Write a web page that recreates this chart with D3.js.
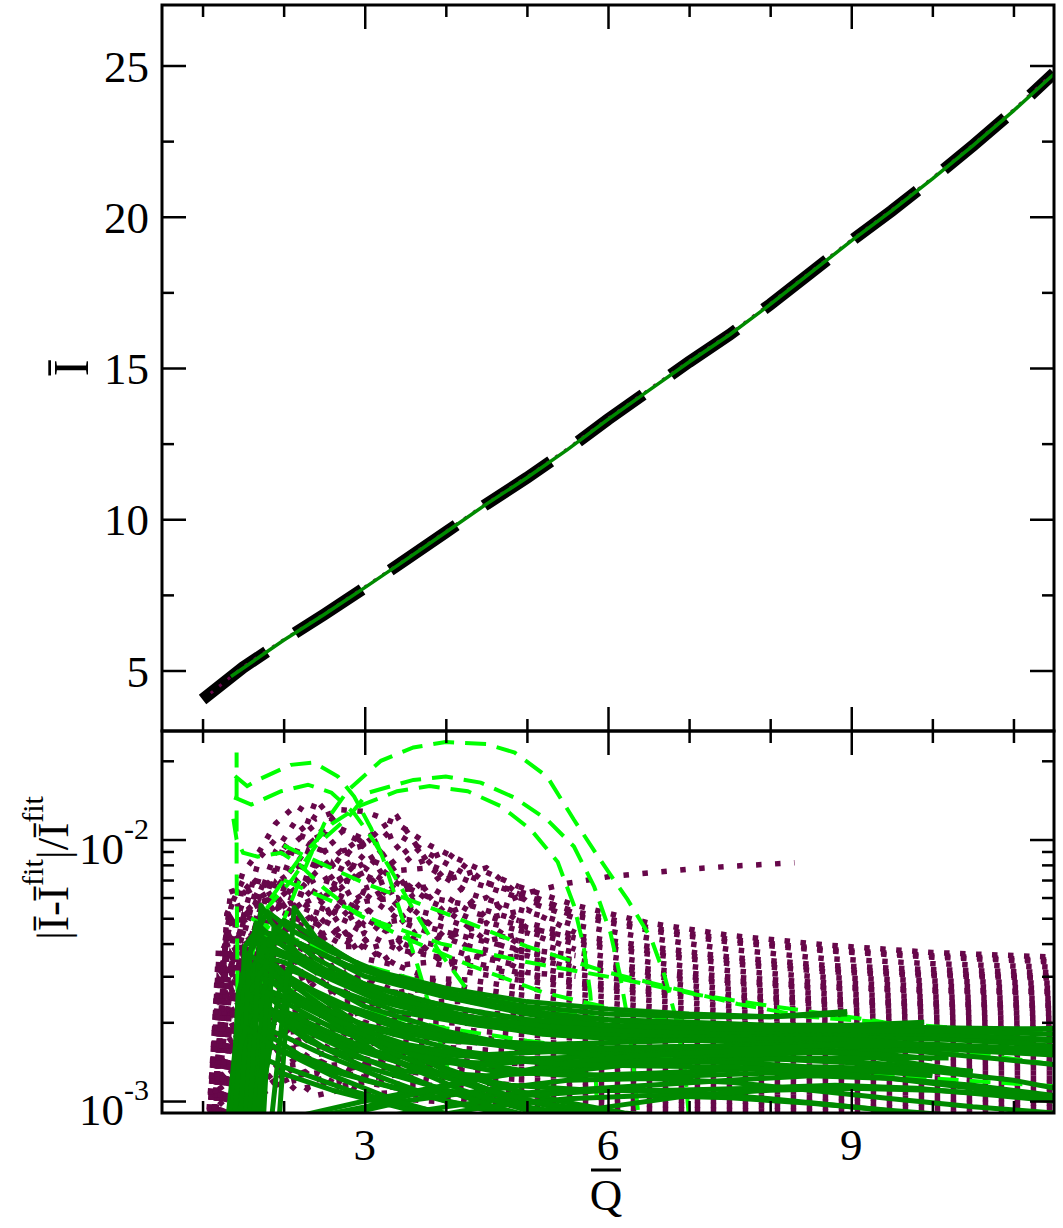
<!DOCTYPE html>
<html><head><meta charset="utf-8">
<script src="https://cdn.jsdelivr.net/npm/d3@7"></script>
<style>body{margin:0;background:#fff} svg text{font-family:"Liberation Serif","DejaVu Serif Condensed","DejaVu Serif",serif;font-stretch:condensed;fill:#000}</style>
</head><body><svg id="c" width="1063" height="1228"></svg>
<script>
// ---------------- DATA ----------------
// Top panel: I-bar vs Q-bar
const topQ = [1.0,1.5,2.0,2.5,3.0,3.5,4.0,4.5,5.0,5.5,6.0,6.5,7.0,7.5,8.0,8.5,9.0,9.5,10.0,10.5,11.0,11.5];
const topI = [4.04,5.1,6.0,6.85,7.74,8.65,9.57,10.5,11.37,12.3,13.3,14.25,15.2,16.1,17.1,18.15,19.2,20.2,21.25,22.35,23.5,24.75];
const topDotQ = [1.1,1.5,2.0,2.5,3.0,3.5,4.0,4.5,5.0,5.5,6.0,6.5,7.0,7.5,8.0,8.5,9.0,9.5,10.0,10.5,11.0,11.45];
const topDotI = [4.25,5.12,6.02,6.87,7.76,8.67,9.6,10.52,11.4,12.33,13.33,14.28,15.23,16.13,17.13,18.18,19.23,20.23,21.28,22.38,23.53,24.65];
const topSolidQ = [1.35,2.0,2.5,3.0,3.5,4.0,4.5,5.0,5.5,6.0,6.5,7.0,7.5,8.0,8.5,9.0,9.5,10.0,10.5,11.0,11.5];
const topSolidI = [4.8,6.0,6.85,7.74,8.65,9.57,10.5,11.37,12.3,13.3,14.25,15.2,16.1,17.1,18.15,19.2,20.2,21.25,22.35,23.5,24.72];

// Bottom panel: relative deviation, values in units of 1e-3
const UNIT = 1e-3;
const dottedQ = [1.05,1.2,1.35,1.5,1.7,1.9,2.15,2.4,2.7,3.0,3.4,3.8,4.3,4.9,5.6,6.5,7.5,8.7,10.0,11.5];
const dottedSeries = [
  [0.5,3.0,5.5,7.5,9.0,11.5,13.5,12.0,13.0,12.8,11.5,9.5,8.0,6.6,5.6,4.8,4.3,3.95,3.7,3.55],
  [0.6,2.2,6.5,5.0,8.5,10.0,8.8,14.2,11.0,10.0,12.2,8.0,6.9,6.0,5.1,4.5,4.05,3.75,3.55,3.4],
  [0.5,4.0,3.8,6.8,6.0,9.0,11.8,9.5,8.2,10.5,7.6,7.8,6.2,5.4,4.7,4.2,3.8,3.5,3.35,3.25],
  [0.7,2.8,5.0,4.2,7.2,6.5,8.0,10.5,7.0,8.8,6.8,6.0,5.6,4.9,4.3,3.9,3.55,3.3,3.18,3.1],
  [0.5,1.8,4.2,5.8,5.0,7.8,6.2,7.5,9.0,6.5,7.2,5.8,5.0,4.5,4.0,3.65,3.35,3.12,3.02,2.95],
  [0.6,3.5,3.0,4.8,6.5,5.2,7.0,5.8,6.8,7.5,5.6,5.2,4.6,4.1,3.7,3.4,3.15,2.97,2.88,2.82],
  [0.5,2.5,4.8,3.6,5.0,6.2,4.8,6.5,5.4,5.8,6.0,4.6,4.2,3.8,3.45,3.2,2.98,2.83,2.75,2.7],
  [0.5,1.5,3.0,4.4,3.8,4.5,5.8,4.6,5.8,4.7,4.9,4.4,3.9,3.55,3.25,3.0,2.82,2.7,2.62,2.58],
  [0.6,2.9,2.4,3.6,4.6,3.9,4.4,5.2,4.2,5.0,4.2,4.0,3.6,3.3,3.05,2.85,2.68,2.57,2.5,2.46],
  [0.5,1.9,3.6,2.9,3.5,4.8,3.7,4.0,4.6,3.8,4.1,3.6,3.4,3.1,2.88,2.7,2.55,2.45,2.39,2.36],
  [0.6,1.3,2.6,3.8,3.0,3.6,4.2,3.3,3.9,3.9,3.3,3.4,3.1,2.9,2.72,2.56,2.43,2.34,2.29,2.26],
  [0.5,2.4,2.0,3.0,3.9,3.1,3.4,3.8,3.0,3.5,3.3,2.95,2.9,2.72,2.56,2.43,2.31,2.23,2.19,2.16],
  [0.5,1.6,3.1,2.5,2.8,3.5,2.9,3.1,3.4,2.8,3.0,2.9,2.7,2.55,2.42,2.3,2.2,2.13,2.09,2.07],
  [0.6,1.1,2.2,3.3,2.5,2.9,3.3,2.7,2.9,3.0,2.6,2.7,2.5,2.4,2.28,2.18,2.09,2.03,2.0,1.98],
  [0.5,2.0,1.7,2.6,3.0,2.4,2.7,3.0,2.5,2.7,2.6,2.4,2.4,2.25,2.15,2.06,1.99,1.94,1.91,1.9],
  [0.5,1.4,2.7,2.1,2.4,2.8,2.3,2.5,2.7,2.3,2.5,2.3,2.2,2.12,2.03,1.96,1.9,1.86,1.83,1.82],
  [0.6,1.0,1.9,2.8,2.1,2.5,2.6,2.2,2.4,2.4,2.1,2.2,2.1,2.0,1.93,1.86,1.81,1.77,1.75,1.74],
  [0.5,1.7,1.5,2.2,2.6,2.0,2.3,2.4,2.1,2.2,2.15,2.0,1.98,1.9,1.83,1.77,1.72,1.69,1.67,1.66],
  [0.5,1.2,2.3,1.8,2.1,2.4,2.0,2.1,2.25,1.95,2.05,1.92,1.86,1.8,1.74,1.69,1.65,1.62,1.6,1.59],
  [0.6,0.95,1.7,2.4,1.8,2.1,2.2,1.85,2.0,2.0,1.8,1.85,1.76,1.7,1.65,1.61,1.57,1.55,1.53,1.52],
  [0.5,1.5,1.3,1.9,2.2,1.75,1.95,2.0,1.8,1.85,1.8,1.7,1.68,1.62,1.57,1.53,1.5,1.48,1.47,1.46],
  [0.5,1.05,2.0,1.6,1.8,2.0,1.7,1.8,1.85,1.65,1.7,1.62,1.58,1.54,1.5,1.46,1.43,1.42,1.41,1.4],
  [0.6,0.9,1.5,2.0,1.6,1.8,1.85,1.6,1.7,1.7,1.55,1.56,1.5,1.46,1.43,1.4,1.37,1.35,1.34,1.34],
  [0.5,1.3,1.15,1.6,1.85,1.5,1.65,1.7,1.5,1.58,1.52,1.45,1.42,1.39,1.36,1.33,1.31,1.29,1.28,1.28],
  [0.5,0.95,1.7,1.4,1.55,1.7,1.45,1.5,1.58,1.4,1.45,1.38,1.35,1.32,1.3,1.27,1.25,1.23,1.22,1.22],
  [0.6,0.85,1.3,1.75,1.4,1.55,1.6,1.4,1.48,1.45,1.35,1.34,1.3,1.27,1.24,1.21,1.19,1.18,1.17,1.17],
  [0.5,1.15,1.0,1.4,1.6,1.3,1.45,1.45,1.3,1.38,1.32,1.26,1.24,1.21,1.18,1.16,1.14,1.13,1.12,1.12],
  [0.5,0.85,1.45,1.2,1.35,1.5,1.25,1.35,1.38,1.22,1.26,1.2,1.18,1.15,1.13,1.11,1.09,1.08,1.07,1.07],
  [0.6,0.8,1.1,1.5,1.2,1.35,1.38,1.2,1.28,1.25,1.16,1.15,1.12,1.1,1.08,1.06,1.04,1.03,1.02,1.02],
  [0.5,1.0,0.9,1.2,1.4,1.15,1.25,1.28,1.14,1.18,1.12,1.08,1.07,1.05,1.03,1.01,1.0,0.99,0.98,0.98],
  [0.5,0.8,1.25,1.05,1.15,1.3,1.1,1.15,1.18,1.06,1.08,1.04,1.02,1.0,0.99,0.97,0.96,0.95,0.94,0.94],
  [0.6,0.75,0.95,1.3,1.05,1.15,1.2,1.05,1.1,1.08,1.02,1.0,0.98,0.96,0.95,0.93,0.92,0.91,0.9,0.9],
  [0.5,2.0,4.6,6.2,7.2,6.0,9.8,11.5,9.0,9.5,10.5,8.8,7.2,6.2,5.3,4.6,4.15,3.8,3.6,3.45],
  [0.6,3.2,2.8,5.4,4.6,6.8,5.5,8.5,6.5,7.8,6.4,6.6,5.3,4.7,4.15,3.75,3.45,3.2,3.07,3.0],
  [0.5,1.7,3.8,3.2,5.6,4.3,5.5,6.0,5.0,6.2,5.0,4.8,4.3,3.75,3.4,3.1,2.88,2.73,2.65,2.62],
  [0.5,2.6,2.2,4.2,3.4,4.9,4.0,4.5,4.0,4.4,3.8,3.6,3.3,3.05,2.82,2.63,2.5,2.41,2.35,2.32]
];
// short, noisy dotted sets that stop near Q = 5.6
const dottedShortQ = [1.1,1.3,1.5,1.75,2.0,2.3,2.6,2.9,3.2,3.6,4.0,4.5,5.0,5.6];
const dottedShortSeries = [
  [0.6,4.5,3.2,6.0,4.0,7.5,5.0,8.5,6.0,7.0,5.2,6.0,4.6,4.2],
  [0.5,2.8,5.0,3.5,6.5,4.2,8.0,5.5,9.0,6.0,7.5,5.0,5.4,4.4],
  [0.6,3.6,2.4,4.8,3.2,5.5,3.8,6.2,4.5,5.4,4.2,4.8,3.8,3.6],
  [0.5,5.2,7.0,5.0,9.5,7.0,12.0,9.0,11.0,8.0,9.0,6.8,6.2,5.2],
  [0.6,2.2,3.8,2.8,4.6,3.4,5.2,3.8,4.8,3.6,4.4,3.5,3.6,3.2],
  [0.5,3.0,4.4,6.8,5.0,9.0,6.5,10.5,7.5,9.5,7.0,7.8,5.8,5.0],
  [0.6,4.0,2.8,4.2,5.6,4.0,6.8,4.6,6.0,4.4,5.4,4.1,4.4,3.8],
  [0.5,1.8,3.0,4.0,3.0,4.2,3.2,4.6,3.4,4.2,3.3,3.7,3.1,3.0]
];
const dottedRisingQ = [4.6,5.05,5.5,6.0,6.5,7.0,7.5,8.0,8.3];
const dottedRisingV = [5.6,6.3,6.8,7.2,7.45,7.7,7.9,8.05,8.15];

const dashedSeries = [
  [[1.95,4.5],[2.2,7.0],[2.5,11.5],[2.8,15.5],[3.2,20],[3.6,22.5],[4.0,23.6],[4.5,23.2],[4.85,21.5],[5.25,17.4],[5.58,11.9],[5.9,8.4],[6.24,5.9],[6.53,4.2],[6.7,3.0],[6.85,2.0],[6.95,1.3],[7.0,0.85]],
  [[1.75,3.0],[1.8,5.5],[2.1,7.0],[2.39,9.4],[2.8,12.2],[3.04,15.1],[3.6,16.9],[4.0,17.4],[4.43,16.5],[4.84,14.5],[5.25,11.9],[5.58,9.4],[5.83,6.6],[6.03,4.4],[6.15,3.0],[6.25,2.0],[6.32,1.3],[6.38,0.85]],
  [[1.6,3.5],[1.76,5.5],[2.2,8.5],[2.6,11.5],[2.95,13.5],[3.4,15.3],[3.8,16.0],[4.27,15.3],[4.68,13.4],[5.05,10.9],[5.38,8.2],[5.58,5.6],[5.7,3.9],[5.78,2.6],[5.83,1.7],[5.87,0.85]],
  [[1.44,0.85],[1.43,3.0],[1.42,8.0],[1.42,14.0],[1.42,21.5]],
  [[1.40,17.5],[1.55,16.0],[1.68,16.9],[2.09,19.3],[2.37,19.7],[2.67,17.4],[2.87,14.6],[3.08,11.0],[3.23,8.4],[3.36,6.3],[3.5,4.6],[3.65,3.3],[3.8,2.3],[3.95,1.6],[4.1,1.1]],
  [[1.39,14.5],[1.6,13.6],[1.97,15.3],[2.3,16.2],[2.59,15.1],[2.87,12.6],[3.1,10.0],[3.35,7.4],[3.6,5.4],[3.9,3.8],[4.25,2.7]],
  [[1.38,12.0],[1.42,10.0],[1.5,8.9],[1.68,8.6],[1.97,8.9],[2.2,8.0],[2.5,6.5],[2.9,5.2],[3.5,4.2],[4.3,3.3],[5.2,2.6],[6.2,2.2],[7.2,1.95],[8.2,1.8],[9.2,1.7],[10.2,1.62],[11.5,1.55]],
  [[2.0,9.5],[2.5,8.0],[3.0,6.8],[3.94,5.3],[5.0,3.9],[6.0,3.1],[6.8,2.7],[7.6,2.35],[8.46,2.1],[9.4,2.0],[10.3,1.9],[11.5,1.85]],
  [[2.0,7.0],[2.6,5.8],[3.2,4.8],[3.94,4.0],[5.0,3.4],[6.23,2.9],[7.1,2.55],[8.04,2.3],[9.2,2.05],[10.26,1.8],[11.5,1.7]],
  [[1.5,3.0],[2.2,2.6],[3.0,2.2],[4.0,1.9],[5.0,1.7],[6.0,1.55],[7.0,1.45],[8.0,1.38],[9.0,1.3],[10.0,1.22],[11.5,1.14]],
  [[1.6,5.0],[2.0,4.3],[3.0,3.3],[4.0,2.7],[5.0,2.3],[6.0,2.05],[7.0,1.9],[8.0,1.8],[9.0,1.72],[10.0,1.6],[11.5,1.38]]
];

const solidSeries = [
  [[1.45,0.9],[1.6,4.0],[1.8,5.3],[2.1,4.5],[2.6,3.7],[3.2,3.1],[4,2.7],[5,2.4],[6,2.25],[7,2.15],[8,2.1],[8.95,2.15]],
  [[1.4,0.8],[1.55,3.6],[1.75,4.4],[2.0,4.3],[2.5,3.6],[3.0,3.0],[4.0,2.5],[5.0,2.2],[6.0,2.05],[7,2.0],[8,1.95],[9,1.95],[9.9,2.0]],
  [[1.5,0.8],[1.7,3.2],[1.9,4.2],[2.2,4.0],[2.8,3.3],[3.5,2.8],[4.5,2.35],[5.5,2.1],[6.5,1.98],[7.5,1.92],[8.5,1.9],[9.5,1.92],[10.5,1.9],[11.5,1.88]],
  [[1.55,0.9],[1.75,3.8],[2.0,4.9],[2.2,4.6],[2.6,3.8],[3.2,3.0],[4,2.5],[5,2.15],[6,1.95],[7,1.85],[8,1.8],[9,1.78],[10,1.75],[11,1.72],[11.5,1.7]],
  [[1.4,0.95],[1.6,3.0],[1.8,3.9],[2.1,3.6],[2.7,3.0],[3.5,2.5],[4.5,2.15],[5.5,1.95],[6.5,1.85],[7.5,1.8],[8.5,1.78],[9.5,1.8],[10.5,1.85],[11.5,1.9]],
  [[1.35,0.85],[1.5,2.8],[1.7,3.6],[2.0,3.4],[2.6,2.7],[3.4,2.2],[4.4,1.95],[5.4,1.8],[6.4,1.72],[7.4,1.7],[8.4,1.7],[9.4,1.68],[10.4,1.62],[11.5,1.55]],
  [[1.5,0.9],[1.65,3.3],[1.85,3.7],[2.3,3.3],[3.0,2.6],[4.0,2.1],[5.0,1.85],[6.0,1.75],[7.0,1.72],[8.0,1.74],[9.0,1.78],[9.95,1.8]],
  [[1.95,0.9],[2.13,5.5],[2.4,4.2],[3.0,3.2],[4,2.6],[5,2.3],[6,2.15],[7,2.1],[8,2.1],[8.95,2.2]],
  [[1.6,0.9],[1.72,5.6],[1.85,4.8],[2.2,3.6],[2.8,2.8],[3.6,2.3],[4.6,2.0],[5.6,1.85],[6.6,1.78],[7.6,1.72],[8.6,1.68],[9.6,1.62],[10.6,1.55],[11.5,1.5]],
  [[1.45,0.9],[1.6,2.6],[1.8,3.2],[2.2,2.8],[2.8,2.3],[3.5,1.95],[4.5,1.7],[5.5,1.6],[6.5,1.55],[7.5,1.5],[8.5,1.45],[9.5,1.38],[10.5,1.3]],
  [[1.5,0.9],[1.65,2.4],[1.85,2.9],[2.3,2.4],[3.0,1.95],[4.0,1.7],[5.0,1.62],[6.0,1.6],[7.0,1.62],[8.0,1.6],[9.0,1.55],[10.0,1.45]],
  [[1.4,0.9],[1.55,2.2],[1.75,2.6],[2.2,2.0],[2.9,1.6],[3.8,1.4],[4.8,1.4],[5.8,1.5],[6.8,1.6],[7.8,1.65],[8.8,1.62],[9.8,1.55],[10.8,1.45],[11.5,1.38]],
  [[1.55,0.9],[1.7,2.9],[1.9,3.1],[2.4,2.4],[3.0,1.8],[3.8,1.4],[4.6,1.15],[5.4,1.0],[6.2,0.9],[7,0.85]],
  [[1.45,0.9],[1.62,2.0],[1.8,2.2],[2.3,1.7],[3.0,1.35],[4.0,1.1],[5.0,0.95],[6.0,0.85]],
  [[1.5,0.9],[1.7,3.5],[1.9,3.3],[2.5,2.2],[3.2,1.6],[4.0,1.25],[5.0,1.0],[6.0,0.85]],
  [[1.35,0.9],[1.5,1.9],[1.7,2.3],[2.5,1.6],[3.5,1.3],[4.5,1.25],[5.5,1.3],[6.5,1.4],[7.5,1.5],[8.5,1.55],[9.5,1.5]],
  [[1.6,0.9],[1.8,2.5],[2.0,2.4],[2.6,1.9],[3.4,1.55],[4.4,1.5],[5.4,1.55],[6.4,1.6],[7.4,1.62],[8.4,1.58],[9.4,1.45],[10.4,1.3]],
  [[2.0,0.85],[3.0,1.0],[4.0,1.15],[5.0,1.3],[6.0,1.4],[7.0,1.45],[8.0,1.45],[9.0,1.4],[10.0,1.3],[11.0,1.2],[11.5,1.12]],
  [[1.8,1.8],[2.2,1.5],[3.0,1.2],[4.0,1.0],[5.0,0.88]],
  [[2.5,0.85],[3.5,1.0],[4.5,1.1],[5.5,1.2],[6.5,1.22],[7.5,1.18],[8.5,1.1],[9.5,1.02],[10.5,0.95],[11.5,0.9]],
  [[1.45,0.9],[1.6,1.7],[1.9,1.6],[2.6,1.3],[3.5,1.1],[4.5,1.05],[5.5,1.1],[6.5,1.15],[7.5,1.2],[8.5,1.25],[9.5,1.22],[10.5,1.15],[11.5,1.05]],
  [[3.0,0.85],[4,0.95],[5,1.05],[6,1.1],[7,1.08],[8,1.02],[9,0.95],[10,0.88]],
  [[1.5,0.9],[1.65,1.5],[2.0,1.35],[2.8,1.1],[3.6,0.95],[4.4,0.85]],
  [[1.55,0.9],[1.75,4.2],[1.95,4.0],[2.5,3.0],[3.2,2.4],[4.2,2.0],[5.2,1.8],[6.2,1.72],[7.2,1.7],[8.2,1.72],[9.2,1.75],[10.2,1.72],[11.2,1.65],[11.5,1.62]],
  [[1.65,0.9],[1.85,3.0],[2.1,2.9],[2.7,2.3],[3.4,1.9],[4.3,1.7],[5.3,1.65],[6.3,1.68],[7.3,1.72],[8.3,1.75],[9.3,1.7],[10.3,1.6]],
  [[1.4,0.9],[1.5,2.5],[1.65,2.8],[2.0,2.5],[3.0,1.75],[4.0,1.45],[5.0,1.3],[6.0,1.25],[7.0,1.25],[8.0,1.28],[9.0,1.3],[10.0,1.28]],
  [[1.7,0.9],[1.9,2.2],[2.3,2.1],[3.0,1.7],[4.0,1.5],[5.0,1.45],[6.0,1.48],[7.0,1.55],[8.0,1.6],[9.0,1.65],[10.0,1.65],[11.0,1.6],[11.5,1.58]],
  [[1.38,0.9],[1.48,3.0],[1.58,3.6],[1.9,3.2],[2.5,2.5],[3.2,2.0],[4.2,1.7],[5.2,1.55],[6.2,1.5],[7.2,1.5],[8.2,1.52],[9.2,1.55],[10.2,1.58]],
  [[1.42,0.9],[1.52,3.9],[1.62,4.3],[1.85,3.9],[2.4,3.1],[3.0,2.6],[4.0,2.15],[5.0,1.9],[6.0,1.8],[7.0,1.78],[8.0,1.8],[9.0,1.82],[10.0,1.8],[11.0,1.75],[11.5,1.72]],
  [[1.32,0.9],[1.45,2.2],[1.6,2.5],[2.0,2.1],[2.8,1.6],[3.8,1.3],[4.8,1.15],[5.8,1.1],[6.8,1.1],[7.8,1.12],[8.8,1.15],[9.8,1.12],[10.8,1.05],[11.5,1.0]],
  [[1.6,0.9],[1.8,3.4],[2.2,2.8],[3.0,1.9],[4.0,1.3],[5.0,0.95],[5.5,0.85]],
  [[1.7,0.9],[1.95,2.7],[2.4,2.2],[3.2,1.5],[4.2,1.1],[5.2,0.88]],
  [[1.36,0.85],[1.44,2.6],[1.52,3.1],[1.8,2.9],[2.4,2.3],[3.2,1.85],[4.2,1.55],[5.2,1.42],[6.2,1.4],[7.2,1.42],[8.2,1.45],[9.2,1.47],[10.2,1.46]],
  [[1.47,0.85],[1.57,3.4],[1.66,4.8],[1.9,4.1],[2.5,3.2],[3.3,2.5],[4.3,2.1],[5.3,1.92],[6.3,1.85],[7.3,1.83],[8.3,1.85],[9.3,1.87],[10.3,1.85],[11.5,1.8]],
  [[1.52,0.85],[1.62,2.0],[1.72,2.3],[2.2,1.9],[3.0,1.45],[3.8,1.15],[4.6,0.95],[5.2,0.85]],
  [[1.58,0.85],[1.68,3.0],[1.78,3.3],[2.1,2.6],[2.8,1.9],[3.6,1.5],[4.6,1.3],[5.6,1.25],[6.6,1.28],[7.6,1.32],[8.6,1.35],[9.6,1.33]],
  [[1.62,0.85],[1.76,1.9],[1.95,1.8],[2.5,1.5],[3.3,1.2],[4.0,1.0],[4.8,0.88]],
  [[1.75,0.85],[1.88,4.6],[2.0,4.4],[2.4,3.5],[3.0,2.8],[4.0,2.3],[5.0,2.05],[6.0,1.95],[7.0,1.9],[8.0,1.88],[9.0,1.86],[9.9,1.85]],
  [[1.85,0.85],[2.05,3.2],[2.4,2.9],[3.0,2.3],[4.0,1.85],[5.0,1.6],[6.0,1.48],[7.0,1.42],[8.0,1.38],[9.0,1.32],[10.0,1.25]],
  [[2.2,0.85],[3.0,0.95],[3.8,1.1],[4.6,1.25],[5.5,1.4],[6.5,1.5],[7.5,1.55],[8.5,1.55],[9.5,1.5]],
  [[1.9,1.3],[2.6,1.1],[3.4,0.95],[4.0,0.85]],
  [[3.6,0.85],[4.5,0.95],[5.5,1.02],[6.5,1.05],[7.5,1.03],[8.5,0.98],[9.5,0.92],[10.5,0.87]],
  [[2.0,2.2],[2.8,1.7],[3.6,1.35],[4.4,1.12],[5.2,0.98],[6.0,0.9],[7.0,0.85]],
  [[1.68,0.85],[1.8,2.6],[2.05,2.5],[2.7,2.0],[3.5,1.65],[4.5,1.45],[5.5,1.38],[6.5,1.36],[7.5,1.35],[8.5,1.3],[9.5,1.22],[10.5,1.12],[11.5,1.02]],
  [[5.0,0.85],[6.0,0.95],[7.0,1.05],[8.0,1.1],[9.0,1.12],[10.0,1.1],[11.0,1.05],[11.5,1.02]],
  [[1.4,0.9],[1.46,1.6],[1.54,1.9],[1.9,1.6],[2.6,1.25],[3.4,1.0],[4.2,0.85]]
];

// Axis ticks / labels
const xMajor = [3,6,9];
const xMinor = [1,2,4,5,7,8,10,11];
const yTopMajor = [5,10,15,20,25];
const yTopMinor = [7.5,12.5,17.5,22.5];
const yBotMajor = [1e-3,1e-2];
const yBotMajorExp = ["-3","-2"];
const yBotMinor = [2e-3,3e-3,4e-3,5e-3,6e-3,7e-3,8e-3,9e-3,2e-2];

// ---------------- LAYOUT ----------------
const L = 162, R = 1054, T1 = 5, B1 = 731, T2 = 731, B2 = 1113;
const svg = d3.select('#c');
const x = d3.scaleLinear().domain([0.5, 11.5]).range([L, R]);
const yTop = d3.scaleLinear().domain([3, 27]).range([B1, T1]);
const yBot = d3.scaleLog().domain([0.0009, 0.026]).range([B2, T2]);

const defs = svg.append('defs');
defs.append('clipPath').attr('id','clipTop').append('rect').attr('x',L).attr('y',T1).attr('width',R-L).attr('height',B1-T1);
defs.append('clipPath').attr('id','clipBot').append('rect').attr('x',L).attr('y',T2).attr('width',R-L).attr('height',B2-T2);

const MAROON = '#67074a', LGREEN = '#00ff00', DGREEN = '#008a00';

// ---- top panel series
const gTop = svg.append('g').attr('clip-path','url(#clipTop)');
const lineTop = d3.line().x(d => x(d[0])).y(d => yTop(d[1]));
gTop.append('path').datum(d3.zip(topQ, topI)).attr('d', lineTop)
  .attr('fill','none').attr('stroke','#000').attr('stroke-width',12).attr('stroke-dasharray','80 34');
gTop.append('path').datum(d3.zip(topDotQ, topDotI)).attr('d', lineTop)
  .attr('fill','none').attr('stroke',MAROON).attr('stroke-width',3).attr('stroke-dasharray','3 8');
gTop.append('path').datum(d3.zip(topSolidQ, topSolidI)).attr('d', lineTop)
  .attr('fill','none').attr('stroke',DGREEN).attr('stroke-width',3.5);

// ---- bottom panel series
const gBot = svg.append('g').attr('clip-path','url(#clipBot)');
const lineBot = d3.line().x(d => x(d[0])).y(d => yBot(Math.max(d[1]*UNIT, 0.0004)));
const dotted = (pts, gap) => gBot.append('path').datum(pts).attr('d', lineBot)
  .attr('fill','none').attr('stroke',MAROON).attr('stroke-width',5.5).attr('stroke-dasharray',`5.5 ${gap}`);
const SPLIT = 13; // dotted paths restart at Q=4.9 so the dots line up in columns to the right
dottedSeries.forEach(vals => {
  const pts = d3.zip(dottedQ, vals);
  dotted(pts.slice(0, SPLIT + 1), 10.5);
  dotted(pts.slice(SPLIT), 10.5);
});
dottedShortSeries.forEach(vals => dotted(d3.zip(dottedShortQ, vals), 11));
dotted(d3.zip(dottedRisingQ, dottedRisingV), 13.5);
dashedSeries.forEach(s => {
  gBot.append('path').datum(s).attr('d', lineBot)
    .attr('fill','none').attr('stroke',LGREEN).attr('stroke-width',4).attr('stroke-dasharray','21 11');
});
solidSeries.forEach(s => {
  gBot.append('path').datum(s).attr('d', lineBot)
    .attr('fill','none').attr('stroke',DGREEN).attr('stroke-width',5).attr('stroke-linejoin','round');
});

// ---- frames
[[T1,B1],[T2,B2]].forEach(([t,b]) => {
  svg.append('rect').attr('x',L).attr('y',t).attr('width',R-L).attr('height',b-t)
    .attr('fill','none').attr('stroke','#000').attr('stroke-width',3);
});

// ---- ticks (inward) via d3 axes
function ticks(axisGen, scale, vals, size, tx, ty) {
  svg.append('g').attr('transform',`translate(${tx},${ty})`)
    .call(axisGen(scale).tickValues(vals).tickSize(size).tickFormat(''))
    .call(g => { g.select('.domain').remove(); g.selectAll('line').attr('stroke','#000').attr('stroke-width',2.5); });
}
[[B1,T1,yTop,yTopMajor,yTopMinor],[B2,T2,yBot,yBotMajor,yBotMinor]].forEach(([b,t,ys,maj,min]) => {
  ticks(d3.axisBottom, x, xMajor, -24, 0, b);
  ticks(d3.axisBottom, x, xMinor, -12, 0, b);
  ticks(d3.axisTop, x, xMajor, -24, 0, t);
  ticks(d3.axisTop, x, xMinor, -12, 0, t);
  ticks(d3.axisLeft, ys, maj, -24, L, 0);
  ticks(d3.axisLeft, ys, min, -12, L, 0);
  ticks(d3.axisRight, ys, maj, -24, R, 0);
  ticks(d3.axisRight, ys, min, -12, R, 0);
});

// ---- tick labels
const FS = 45;
yTopMajor.forEach(v => {
  svg.append('text').attr('x',149).attr('y',yTop(v)+16).attr('text-anchor','end')
    .attr('font-size',FS).text(v);
});
yBotMajor.forEach((v,i) => {
  const t = svg.append('text').attr('x',149).attr('y',yBot(v)+24).attr('text-anchor','end').attr('font-size',FS);
  t.append('tspan').text('10');
  t.append('tspan').attr('font-size',30).attr('dy',-25).text(yBotMajorExp[i]);
});
xMajor.forEach(v => {
  svg.append('text').attr('x',x(v)).attr('y',1160).attr('text-anchor','middle').attr('font-size',FS).text(v);
});

// ---- axis titles
svg.append('text').attr('transform','translate(88,368) rotate(-90)').attr('text-anchor','middle')
  .attr('font-size',50).text('\u012A');
const yl = svg.append('text').attr('transform','translate(68,868) rotate(-90)').attr('text-anchor','middle').attr('font-size',FS);
yl.append('tspan').text('|\u012A-\u012A');
yl.append('tspan').attr('font-size',30).attr('dy',-25).text('fit');
yl.append('tspan').attr('dy',25).text('|/\u012A');
yl.append('tspan').attr('font-size',30).attr('dy',-25).text('fit');
svg.append('text').attr('x',606).attr('y',1210).attr('text-anchor','middle').attr('font-size',FS).text('Q');
svg.append('line').attr('x1',591).attr('x2',621).attr('y1',1170).attr('y2',1170).attr('stroke','#000').attr('stroke-width',3);
</script></body></html>
